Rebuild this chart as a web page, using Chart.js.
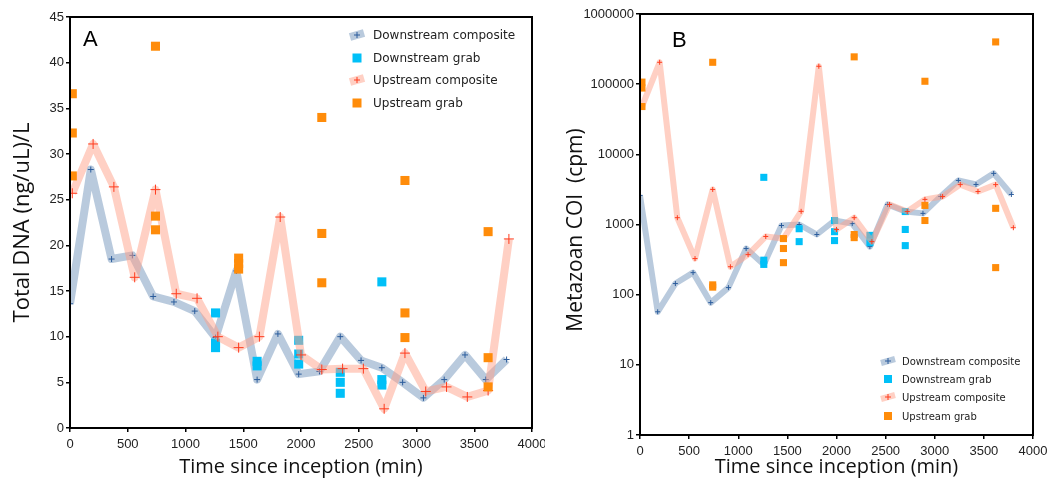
<!DOCTYPE html>
<html>
<head>
<meta charset="utf-8">
<script src="https://cdn.jsdelivr.net/npm/chart.js@4.4.1/dist/chart.umd.min.js"></script>
<style>
	html, body { margin: 0; padding: 0; background: #fff; }
	#wrap { position: relative; width: 1064px; height: 485px; }
	canvas { position: absolute; top: 0; }
	#chartA { left: 0; }
	#chartB { left: 545px; }
</style>
</head>
<body>
<div id="wrap">
	<canvas id="chartA" width="545" height="485"></canvas>
	<canvas id="chartB" width="519" height="485"></canvas>
</div>
<script>
// sampling times (min)
const downTimes = [0, 180, 360, 540, 720, 900, 1080, 1260, 1440, 1620, 1800, 1980, 2160, 2340, 2520, 2700, 2880, 3060, 3240, 3420, 3600, 3780];
const upTimes = [20, 200, 380, 560, 740, 920, 1100, 1280, 1460, 1640, 1820, 2000, 2180, 2360, 2540, 2720, 2900, 3080, 3260, 3440, 3620, 3800];
const downGrabTimes = [1260, 1260, 1260, 1620, 1620, 1980, 1980, 1980, 2340, 2340, 2340, 2700, 2700, 2700];
const upGrabTimes = [20, 20, 20, 740, 740, 740, 1460, 1460, 1460, 2180, 2180, 2180, 2900, 2900, 2900, 3620, 3620, 3620];
const downGrabTimesB = [1260, 1260, 1260, 1620, 1620, 1980, 1980, 1980, 2340, 2340, 2700, 2700, 2700];

// A: total DNA (ng/uL)/L
const dnaDown = [13.6, 28.3, 18.5, 18.9, 14.4, 13.8, 12.8, 9.9, 17.2, 5.3, 10.3, 5.9, 6.2, 10.0, 7.4, 6.6, 5.0, 3.3, 5.3, 8.0, 5.3, 7.5];
const dnaUp = [25.7, 31.1, 26.4, 16.5, 26.1, 14.7, 14.2, 10.0, 8.8, 10.0, 23.1, 8.0, 6.4, 6.5, 6.5, 2.1, 8.2, 4.0, 4.5, 3.4, 4.1, 20.7];
const dnaDownGrab = [12.6, 9.3, 8.8, 7.3, 6.8, 9.6, 8.1, 7.0, 6.1, 5.0, 3.8, 16.0, 5.3, 4.7];
const dnaUpGrab = [36.6, 32.3, 27.6, 41.8, 23.2, 21.7, 18.6, 18.0, 17.4, 34.0, 21.3, 15.9, 27.1, 12.6, 9.9, 21.5, 7.7, 4.5];

// B: metazoan COI (cpm)
const cpmDown = [2600, 57, 144, 206, 77, 126, 454, 268, 968, 1000, 720, 1140, 1030, 485, 1930, 1535, 1440, 2510, 4250, 3720, 5350, 2680];
const cpmUp = [48000, 205000, 1250, 327, 3160, 250, 372, 675, 630, 1540, 180000, 850, 1250, 570, 1930, 1530, 2280, 2500, 3700, 2950, 3700, 900];
const cpmDownGrab = [4700, 310, 270, 870, 570, 1140, 790, 590, 700, 550, 1530, 850, 500];
const cpmUpGrab = [107000, 88000, 48000, 205000, 138, 128, 630, 455, 286, 245000, 720, 650, 110000, 1870, 1140, 400000, 1700, 243];

const seriesNames = ["Downstream composite", "Downstream grab", "Upstream composite", "Upstream grab"];
const cpmTicks = [1, 10, 100, 1000, 10000, 100000, 1000000];

const pts = (ts, vs) => ts.map((t, i) => ({ x: t, y: vs[i] }));

const tickFont = { family: "Liberation Sans", size: 13 };
const xTitleFont = { family: "Open Sans", size: 20 };

/**
 * Box around the plot, panel letter and the in-axes legend
 */
const panelPlugin = {
	id: "panel",
	afterDraw(chart, args, o) {
		const { ctx, chartArea: a } = chart;
		ctx.save();
		ctx.strokeStyle = "#000";
		ctx.lineWidth = 2;
		ctx.strokeRect(a.left, a.top, a.right - a.left, a.bottom - a.top);

		ctx.fillStyle = "#000";
		ctx.font = o.letterFont;
		ctx.textBaseline = "alphabetic";
		ctx.fillText(o.letter, o.letterX, o.letterY);

		ctx.font = o.legendFont;
		ctx.textBaseline = "middle";
		chart.data.datasets.forEach((ds, i) => {
			const y = o.rows[i];
			const x = o.symX;
			if (ds.showLine) {
				ctx.strokeStyle = ds.borderColor;
				ctx.lineWidth = ds.borderWidth;
				ctx.lineCap = "butt";
				ctx.beginPath();
				ctx.moveTo(x - 7, y + 2);
				ctx.lineTo(x + 7, y - 2);
				ctx.stroke();
				ctx.strokeStyle = ds.pointBorderColor;
				ctx.lineWidth = 1;
				ctx.beginPath();
				ctx.moveTo(x - 3, y);
				ctx.lineTo(x + 3, y);
				ctx.moveTo(x, y - 3);
				ctx.lineTo(x, y + 3);
				ctx.stroke();
			} else {
				ctx.fillStyle = ds.backgroundColor;
				ctx.fillRect(x - o.sq / 2, y - o.sq / 2, o.sq, o.sq);
			}
			ctx.fillStyle = "#222";
			ctx.fillText(ds.label, o.textX, y + 1);
		});
		ctx.restore();
	},
};

function buildDatasets(down, downGrabT, downGrab, up, upGrab, lw, grabR, downCross, upCross) {
	return [
		{
			label: seriesNames[0],
			data: pts(downTimes, down),
			showLine: true,
			borderColor: "rgba(115, 150, 187, 0.5)",
			borderWidth: lw,
			borderJoinStyle: "round",
			pointStyle: "cross",
			pointRadius: downCross,
			pointBorderColor: "#2b5c9c",
			pointBorderWidth: 1,
			order: 4,
		},
		{
			label: seriesNames[1],
			data: pts(downGrabT, downGrab),
			showLine: false,
			backgroundColor: "#00c0f8",
			pointStyle: "rect",
			pointRadius: grabR,
			pointBorderWidth: 0,
			order: 3,
		},
		{
			label: seriesNames[2],
			data: pts(upTimes, up),
			showLine: true,
			borderColor: "rgba(255, 161, 137, 0.5)",
			borderWidth: lw,
			borderJoinStyle: "round",
			pointStyle: "cross",
			pointRadius: upCross,
			pointBorderColor: "#ff3c1e",
			pointBorderWidth: 1,
			order: 2,
		},
		{
			label: seriesNames[3],
			data: pts(upGrabTimes, upGrab),
			showLine: false,
			backgroundColor: "#ff8c0a",
			pointStyle: "rect",
			pointRadius: grabR,
			pointBorderWidth: 0,
			order: 1,
		},
	];
}

function xAxis(height) {
	return {
		type: "linear",
		min: 0,
		max: 4000,
		ticks: { stepSize: 500, padding: 5, color: "#222", font: tickFont, maxRotation: 0, autoSkip: false, callback: (v) => String(v) },
		grid: { drawOnChartArea: false, drawTicks: true, tickLength: 4, color: "#000", lineWidth: 1.5 },
		border: { display: true, color: "#000", width: 2 },
		title: { display: true, text: "Time since inception (min)", font: xTitleFont, color: "#111", padding: { top: 0, bottom: 6 } },
		afterFit(s) {
			s.height = height;
			s.paddingLeft = 0;
			s.paddingRight = 0;
		},
	};
}

// Panel A
new Chart(document.getElementById("chartA").getContext("2d"), {
	type: "scatter",
	data: { datasets: buildDatasets(dnaDown, downGrabTimes, dnaDownGrab, dnaUp, dnaUpGrab, 8, 6.4, 3, 5) },
	options: {
		responsive: false,
		animation: false,
		devicePixelRatio: 1,
		layout: { padding: { top: 17, right: 13, bottom: 0, left: 0 } },
		plugins: {
			legend: { display: false },
			tooltip: { enabled: false },
			panel: {
				letter: "A", letterX: 83, letterY: 46, letterFont: "22px 'Liberation Sans'",
				legendFont: "12px 'DejaVu Sans'", rows: [35, 58, 80, 103], symX: 357, textX: 373, sq: 9,
			},
		},
		scales: {
			x: xAxis(57),
			y: {
				min: 0,
				max: 45,
				ticks: { stepSize: 5, padding: 2, color: "#222", font: tickFont },
				grid: { drawOnChartArea: false, drawTicks: true, tickLength: 4, color: "#000", lineWidth: 1.5 },
				border: { display: true, color: "#000", width: 2 },
				title: { display: true, text: "Total DNA (ng/uL)/L", font: { family: "Open Sans", size: 22 }, color: "#111", padding: { top: 10, bottom: 0 } },
				afterFit(s) {
					s.width = 70;
					s.paddingTop = 0;
					s.paddingBottom = 0;
				},
			},
		},
	},
	plugins: [panelPlugin],
});

// Panel B
new Chart(document.getElementById("chartB").getContext("2d"), {
	type: "scatter",
	data: { datasets: buildDatasets(cpmDown, downGrabTimesB, cpmDownGrab, cpmUp, cpmUpGrab, 6, 5, 2.5, 2.5) },
	options: {
		responsive: false,
		animation: false,
		devicePixelRatio: 1,
		layout: { padding: { top: 14, right: 31, bottom: 0, left: 0 } },
		plugins: {
			legend: { display: false },
			tooltip: { enabled: false },
			panel: {
				letter: "B", letterX: 127, letterY: 47, letterFont: "22px 'Liberation Sans'",
				legendFont: "10px 'DejaVu Sans'", rows: [361, 379, 397, 416], symX: 343, textX: 357, sq: 8,
			},
		},
		scales: {
			x: xAxis(50),
			y: {
				type: "logarithmic",
				min: 1,
				max: 1000000,
				afterBuildTicks(s) {
					s.ticks = cpmTicks.map((v) => ({ value: v, major: true }));
				},
				ticks: { padding: 2, color: "#222", font: tickFont, autoSkip: false, callback: (v) => String(v) },
				grid: { drawOnChartArea: false, drawTicks: true, tickLength: 4, color: "#000", lineWidth: 1.5 },
				border: { display: true, color: "#000", width: 2 },
				title: { display: true, text: "Metazoan COI  (cpm)  ", font: { family: "Open Sans", size: 21 }, color: "#111", padding: { top: 18, bottom: 0 } },
				afterFit(s) {
					s.width = 95;
					s.paddingTop = 0;
					s.paddingBottom = 0;
				},
			},
		},
	},
	plugins: [panelPlugin],
});
</script>
</body>
</html>
